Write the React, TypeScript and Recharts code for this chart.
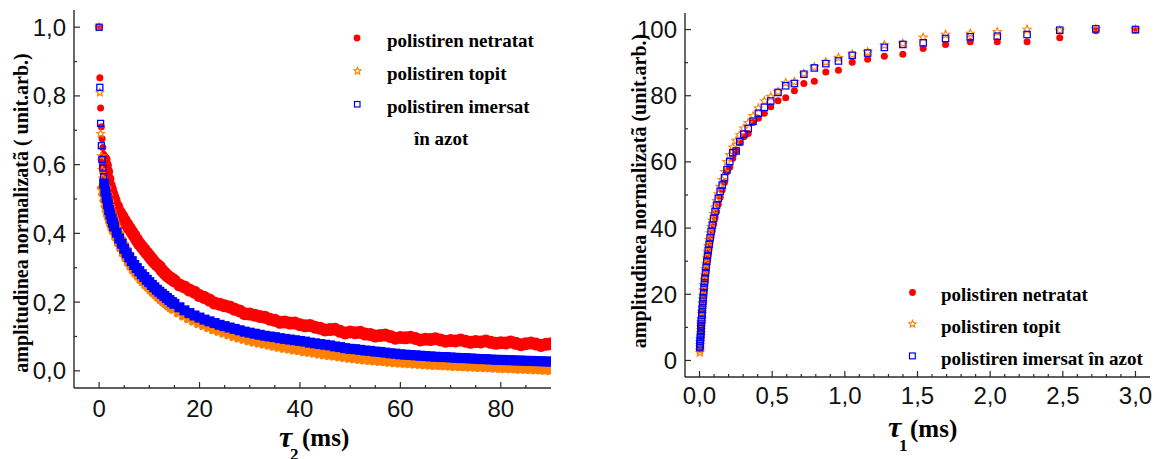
import { ScatterChart, Scatter, XAxis, YAxis } from 'recharts';

// ---- left panel: decay vs tau2 (ms) ----
const tau2 = [
  0, 0.15, 0.3, 0.45, 0.6, 0.75, 0.9,
  1, 1.25, 1.5, 1.75, 2, 2.25, 2.5, 2.75, 3, 3.5, 4, 4.5, 5,
  5.5, 6, 6.5, 7, 7.5, 8, 8.5, 9, 9.5, 10,
  10.5, 11, 11.5, 12, 12.5, 13, 13.5, 14, 14.5, 15,
  16, 17, 18, 19, 20,
  21, 22, 23, 24, 25, 26, 27, 28, 29, 30,
  31, 32, 33, 34, 35, 36, 37, 38, 39, 40,
  41, 42, 43, 44, 45, 46, 47, 48, 49, 50,
  51, 52, 53, 54, 55, 56, 57, 58, 59, 60,
  61, 62, 63, 64, 65, 66, 67, 68, 69, 70,
  71, 72, 73, 74, 75, 76, 77, 78, 79, 80,
  81, 82, 83, 84, 85, 86, 87, 88, 89, 90,
];
const netratat2 = [
  1.0, 0.853, 0.765, 0.71, 0.675, 0.65, 0.63,
  0.615, 0.598, 0.58, 0.558, 0.54, 0.528, 0.516, 0.505, 0.495, 0.478, 0.462, 0.45, 0.438,
  0.426, 0.415, 0.404, 0.393, 0.381, 0.37, 0.361, 0.352, 0.343, 0.334,
  0.325, 0.316, 0.309, 0.303, 0.293, 0.285, 0.278, 0.272, 0.267, 0.262,
  0.25, 0.244, 0.235, 0.229, 0.219,
  0.213, 0.206, 0.197, 0.194, 0.189, 0.186, 0.179, 0.174, 0.166, 0.165,
  0.162, 0.158, 0.156, 0.15, 0.147, 0.141, 0.142, 0.139, 0.139, 0.134,
  0.131, 0.132, 0.127, 0.124, 0.119, 0.12, 0.121, 0.115, 0.11, 0.113,
  0.111, 0.112, 0.107, 0.106, 0.101, 0.103, 0.104, 0.1, 0.095, 0.097,
  0.096, 0.098, 0.094, 0.09, 0.092, 0.091, 0.093, 0.09, 0.086, 0.088,
  0.087, 0.09, 0.086, 0.083, 0.085, 0.084, 0.087, 0.083, 0.08, 0.082,
  0.081, 0.084, 0.08, 0.076, 0.079, 0.081, 0.078, 0.074, 0.077, 0.079,
];
const topit2 = [
  1.0, 0.81, 0.69, 0.625, 0.585, 0.56, 0.54,
  0.528, 0.508, 0.49, 0.474, 0.46, 0.447, 0.436, 0.425, 0.415, 0.397, 0.38, 0.365, 0.35,
  0.336, 0.323, 0.311, 0.3, 0.291, 0.282, 0.273, 0.265, 0.257, 0.25,
  0.242, 0.235, 0.228, 0.221, 0.214, 0.208, 0.202, 0.196, 0.19, 0.185,
  0.175, 0.166, 0.158, 0.151, 0.144,
  0.138, 0.132, 0.126, 0.121, 0.116, 0.111, 0.106, 0.102, 0.098, 0.094,
  0.09, 0.087, 0.084, 0.081, 0.078, 0.075, 0.072, 0.07, 0.067, 0.065,
  0.062, 0.06, 0.058, 0.055, 0.053, 0.051, 0.049, 0.047, 0.045, 0.043,
  0.041, 0.04, 0.038, 0.037, 0.035, 0.034, 0.033, 0.031, 0.03, 0.029,
  0.028, 0.027, 0.026, 0.025, 0.024, 0.023, 0.022, 0.022, 0.021, 0.02,
  0.019, 0.019, 0.018, 0.017, 0.017, 0.016, 0.016, 0.015, 0.014, 0.014,
  0.013, 0.013, 0.012, 0.011, 0.011, 0.01, 0.009, 0.009, 0.008, 0.007,
];
const imersat2 = [
  1.0, 0.825, 0.72, 0.655, 0.615, 0.59, 0.565,
  0.545, 0.522, 0.503, 0.485, 0.468, 0.455, 0.442, 0.431, 0.42, 0.402, 0.385, 0.37, 0.355,
  0.342, 0.33, 0.319, 0.308, 0.299, 0.29, 0.281, 0.273, 0.265, 0.258,
  0.25, 0.243, 0.236, 0.23, 0.224, 0.218, 0.212, 0.206, 0.2, 0.195,
  0.185, 0.176, 0.168, 0.161, 0.155,
  0.149, 0.144, 0.139, 0.134, 0.13, 0.126, 0.122, 0.118, 0.114, 0.111,
  0.108, 0.105, 0.102, 0.1, 0.098, 0.095, 0.093, 0.091, 0.089, 0.087,
  0.085, 0.082, 0.08, 0.078, 0.076, 0.074, 0.071, 0.069, 0.066, 0.064,
  0.063, 0.061, 0.059, 0.058, 0.056, 0.055, 0.053, 0.051, 0.05, 0.048,
  0.047, 0.046, 0.045, 0.044, 0.043, 0.042, 0.041, 0.04, 0.04, 0.039,
  0.038, 0.037, 0.037, 0.036, 0.035, 0.034, 0.034, 0.033, 0.032, 0.032,
  0.031, 0.031, 0.03, 0.03, 0.029, 0.029, 0.028, 0.028, 0.027, 0.027,
];

// ---- right panel: recovery vs tau1 (ms) ----
const tau1 = [
  0.002, 0.003, 0.004, 0.005, 0.006, 0.007, 0.008, 0.009, 0.01, 0.011,
  0.012, 0.013, 0.014, 0.016, 0.017, 0.019, 0.021, 0.023, 0.025, 0.028,
  0.031, 0.034, 0.037, 0.041, 0.045, 0.05, 0.055, 0.06, 0.066, 0.073,
  0.08, 0.088, 0.097, 0.107, 0.117, 0.129, 0.142, 0.156, 0.172, 0.189,
  0.208, 0.229, 0.252, 0.277, 0.305, 0.335, 0.368, 0.405, 0.446, 0.49,
  0.54, 0.593, 0.653, 0.718, 0.79, 0.869, 0.956, 1.051, 1.157, 1.272,
  1.399, 1.539, 1.693, 1.863, 2.049, 2.254, 2.479, 2.727, 3.0,
];
const netratat1 = [
  3.6, 4.1, 4.7, 5.3, 6.0, 6.7, 7.4, 8.1, 8.8, 9.5,
  10.2, 10.9, 11.5, 12.7, 13.3, 14.5, 15.6, 16.7, 17.8, 19.3,
  20.8, 22.2, 23.5, 25.2, 26.8, 28.6, 30.3, 31.9, 33.7, 35.6,
  37.4, 39.3, 41.2, 43.2, 45.0, 47.2, 49.3, 51.5, 53.8, 57.0,
  58.4, 61.1, 63.4, 65.8, 67.6, 68.6, 71.9, 73.2, 74.7, 76.7,
  78.5, 79.4, 81.5, 83.7, 84.4, 87.2, 87.7, 90.1, 91.0, 91.9,
  92.5, 94.3, 95.5, 96.3, 96.3, 96.3, 97.5, 99.6, 99.8,
];
const topit1 = [
  2.4, 3.1, 3.9, 4.7, 5.6, 6.5, 7.4, 8.3, 9.2, 10.1,
  10.9, 11.7, 12.5, 14.0, 14.7, 16.0, 17.3, 18.5, 19.7, 21.3,
  22.9, 24.4, 25.8, 27.6, 29.2, 31.1, 32.9, 34.6, 36.5, 38.5,
  40.4, 42.3, 44.3, 46.3, 48.2, 50.3, 52.5, 54.6, 57.0, 60.0,
  62.1, 64.4, 66.4, 68.1, 70.1, 71.8, 73.9, 76.2, 78.4, 79.7,
  81.2, 83.9, 84.2, 86.7, 88.7, 90.2, 91.5, 92.5, 93.2, 95.3,
  95.8, 97.6, 98.5, 98.8, 99.3, 100.0, 99.8, 100.2, 100.0,
];
const imersat1 = [
  3.9, 4.4, 5.0, 5.7, 6.4, 7.2, 8.0, 8.8, 9.6, 10.3,
  11.0, 11.7, 12.4, 13.7, 14.3, 15.5, 16.7, 17.9, 19.0, 20.5,
  22.0, 23.4, 24.8, 26.5, 28.1, 30.0, 31.7, 33.3, 35.1, 37.1,
  39.0, 40.9, 42.9, 45.0, 46.9, 49.0, 51.1, 53.0, 55.2, 57.6,
  60.1, 62.8, 63.3, 66.1, 68.4, 70.1, 72.3, 74.7, 76.5, 78.4,
  81.0, 83.0, 83.7, 86.5, 88.4, 89.7, 90.5, 92.2, 92.9, 94.6,
  95.5, 96.0, 97.3, 97.8, 98.0, 98.5, 99.8, 100.2, 100.0,
];

const legendNames = ['polistiren netratat', 'polistiren topit', 'polistiren imersat', 'în azot'];
const legendNamesRight = ['polistiren netratat', 'polistiren topit', 'polistiren imersat în azot'];

const xTicks2 = [0, 5, 10, 15, 20, 25, 30, 35, 40, 45, 50, 55, 60, 65, 70, 75, 80, 85];
const xMajor2 = [0, 20, 40, 60, 80];
const yTicks2 = [0, 0.1, 0.2, 0.3, 0.4, 0.5, 0.6, 0.7, 0.8, 0.9, 1.0];
const yMajor2 = [0, 0.2, 0.4, 0.6, 0.8, 1.0];
const xTicks1 = [0, 0.1, 0.2, 0.3, 0.4, 0.5, 0.6, 0.7, 0.8, 0.9, 1.0, 1.1, 1.2, 1.3, 1.4, 1.5, 1.6, 1.7, 1.8, 1.9, 2.0, 2.1, 2.2, 2.3, 2.4, 2.5, 2.6, 2.7, 2.8, 2.9, 3.0];
const xMajor1 = [0, 0.5, 1.0, 1.5, 2.0, 2.5, 3.0];
const yTicks1 = [0, 10, 20, 30, 40, 50, 60, 70, 80, 90, 100];
const yMajor1 = [0, 20, 40, 60, 80, 100];

const RED = '#ff0000';
const ORANGE = '#ff8000';
const BLUE = '#0000ff';
const FRAME = '#2a2a2a';
const SANS = "'Liberation Sans', Arial, sans-serif";
const SERIF = "'Liberation Serif', 'Times New Roman', serif";

const toPoints = (xs: number[], ys: number[]) => xs.map((x, i) => ({ x, y: ys[i] }));

const comma = (d: number) => (v: number) => v.toFixed(d).replace('.', ',');
const plain = (v: number) => String(v);

type Side = 'bottom' | 'top' | 'left' | 'right';

function makeTick(side: Side, majors: number[], fmt?: (v: number) => string, labelOffset = 29) {
  return (props: any) => {
    const { x, y, payload } = props;
    const v = Number(payload.value);
    const major = majors.some((m) => Math.abs(m - v) < 1e-6);
    const len = major ? 6 : 3;
    let x2 = x;
    let y2 = y;
    if (side === 'bottom') y2 = y - len;
    if (side === 'top') y2 = y + len;
    if (side === 'left') x2 = x + len;
    if (side === 'right') x2 = x - len;
    return (
      <g>
        <line x1={x} y1={y} x2={x2} y2={y2} stroke={FRAME} strokeWidth={1.2} />
        {fmt && major && side === 'bottom' && (
          <text x={x} y={y + labelOffset} textAnchor="middle" fontFamily={SANS} fontSize={24} fill="#111">
            {fmt(v)}
          </text>
        )}
        {fmt && major && side === 'left' && (
          <text x={x - 8} y={y + 8.5} textAnchor="end" fontFamily={SANS} fontSize={24} fill="#111">
            {fmt(v)}
          </text>
        )}
      </g>
    );
  };
}

const starPoints = (cx: number, cy: number, R: number) => {
  const pts: string[] = [];
  for (let i = 0; i < 10; i++) {
    const a = -Math.PI / 2 + (i * Math.PI) / 5;
    const r = i % 2 === 0 ? R : R * 0.45;
    pts.push(`${cx + r * Math.cos(a)},${cy + r * Math.sin(a)}`);
  }
  return pts.join(' ');
};

// markers for the dense left panel: small hollow ones near t=0, heavy ones in the band
const redBand = (p: any) => {
  const early = (p.payload?.x ?? 1) < 1;
  return <circle cx={p.cx} cy={p.cy} r={early ? 3.5 : 6.5} fill={RED} />;
};
const orangeBand = (p: any) => {
  const early = (p.payload?.x ?? 1) < 1;
  return early ? (
    <polygon points={starPoints(p.cx, p.cy, 4)} fill="none" stroke={ORANGE} strokeWidth={1.2} />
  ) : (
    <polygon points={starPoints(p.cx, p.cy, 5.5)} fill={ORANGE} stroke={ORANGE} strokeWidth={4.5} strokeLinejoin="round" />
  );
};
const blueBand = (p: any) => {
  const early = (p.payload?.x ?? 1) < 1;
  return early ? (
    <rect x={p.cx - 3} y={p.cy - 3} width={6} height={6} fill="none" stroke={BLUE} strokeWidth={1.3} />
  ) : (
    <rect x={p.cx - 5} y={p.cy - 5} width={10} height={10} fill={BLUE} />
  );
};

// markers for the right panel
const redDot = (p: any) => <circle cx={p.cx} cy={p.cy} r={3.5} fill={RED} />;
const orangeStar = (p: any) => (
  <polygon points={starPoints(p.cx, p.cy, 4.3)} fill="none" stroke={ORANGE} strokeWidth={1.1} />
);
const blueSquare = (p: any) => (
  <rect x={p.cx - 3.2} y={p.cy - 3.2} width={6.4} height={6.4} fill="none" stroke={BLUE} strokeWidth={1.2} />
);

const axisLine = { stroke: FRAME, strokeWidth: 1.4 };

const LeftPanel = () => (
  <ScatterChart width={580} height={459} margin={{ top: 10, right: 29, bottom: 0, left: 0 }}>
    <XAxis xAxisId="b" type="number" dataKey="x" domain={[-5, 90]} allowDataOverflow ticks={xTicks2} interval={0}
      orientation="bottom" height={71} tickSize={0} tickMargin={0} tickLine={false} axisLine={axisLine}
      tick={makeTick('bottom', xMajor2, plain, 29)} />
    <XAxis xAxisId="t" type="number" dataKey="x" domain={[-5, 90]} allowDataOverflow ticks={xTicks2} interval={0}
      orientation="top" height={0} tickSize={0} tickMargin={0} tickLine={false} axisLine={axisLine}
      tick={makeTick('top', xMajor2)} />
    <YAxis yAxisId="l" type="number" dataKey="y" domain={[-0.05, 1.05]} allowDataOverflow ticks={yTicks2} interval={0}
      orientation="left" width={74} tickSize={0} tickMargin={0} tickLine={false} axisLine={axisLine}
      tick={makeTick('left', yMajor2, comma(1))} />
    <YAxis yAxisId="r" type="number" dataKey="y" domain={[-0.05, 1.05]} allowDataOverflow ticks={yTicks2} interval={0}
      orientation="right" width={0} tickSize={0} tickMargin={0} tickLine={false} axisLine={axisLine}
      tick={makeTick('right', yMajor2)} />
    <Scatter xAxisId="b" yAxisId="l" name={legendNames[0]} data={toPoints(tau2, netratat2)} shape={redBand} isAnimationActive={false} />
    <Scatter xAxisId="b" yAxisId="l" name={legendNames[1]} data={toPoints(tau2, topit2)} shape={orangeBand} isAnimationActive={false} />
    <Scatter xAxisId="b" yAxisId="l" name={legendNames[2]} data={toPoints(tau2, imersat2)} shape={blueBand} isAnimationActive={false} />
  </ScatterChart>
);

const RightPanel = () => (
  <ScatterChart width={582} height={459} margin={{ top: 13, right: 12, bottom: 0, left: 0 }}>
    <XAxis xAxisId="b" type="number" dataKey="x" domain={[-0.1, 3.1]} allowDataOverflow ticks={xTicks1} interval={0}
      orientation="bottom" height={82} tickSize={0} tickMargin={0} tickLine={false} axisLine={axisLine}
      tick={makeTick('bottom', xMajor1, comma(1), 27)} />
    <XAxis xAxisId="t" type="number" dataKey="x" domain={[-0.1, 3.1]} allowDataOverflow ticks={xTicks1} interval={0}
      orientation="top" height={0} tickSize={0} tickMargin={0} tickLine={false} axisLine={axisLine}
      tick={makeTick('top', xMajor1)} />
    <YAxis yAxisId="l" type="number" dataKey="y" domain={[-5, 105]} allowDataOverflow ticks={yTicks1} interval={0}
      orientation="left" width={105} tickSize={0} tickMargin={0} tickLine={false} axisLine={axisLine}
      tick={makeTick('left', yMajor1, plain)} />
    <YAxis yAxisId="r" type="number" dataKey="y" domain={[-5, 105]} allowDataOverflow ticks={yTicks1} interval={0}
      orientation="right" width={0} tickSize={0} tickMargin={0} tickLine={false} axisLine={axisLine}
      tick={makeTick('right', yMajor1)} />
    <Scatter xAxisId="b" yAxisId="l" name={legendNamesRight[0]} data={toPoints(tau1, netratat1)} shape={redDot} isAnimationActive={false} />
    <Scatter xAxisId="b" yAxisId="l" name={legendNamesRight[1]} data={toPoints(tau1, topit1)} shape={orangeStar} isAnimationActive={false} />
    <Scatter xAxisId="b" yAxisId="l" name={legendNamesRight[2]} data={toPoints(tau1, imersat1)} shape={blueSquare} isAnimationActive={false} />
  </ScatterChart>
);

const legendText = { fontFamily: SERIF, fontWeight: 700, fontSize: 19, fill: '#000' } as const;
const titleText = { fontFamily: SERIF, fontWeight: 700, fill: '#000' } as const;

// titles and legends drawn over both panels
const Overlay = () => (
  <svg width={1162} height={459} style={{ position: 'absolute', left: 0, top: 0, pointerEvents: 'none' }}>
    {/* left legend */}
    <circle cx={357} cy={38} r={3.4} fill={RED} />
    <text x={387} y={47} {...legendText}>{legendNames[0]}</text>
    <polygon points={starPoints(357.5, 71, 3.8)} fill="none" stroke={ORANGE} strokeWidth={1.1} />
    <text x={387} y={80} {...legendText}>{legendNames[1]}</text>
    <rect x={354.5} y={101.5} width={5.5} height={5.5} fill="none" stroke={BLUE} strokeWidth={1.2} />
    <text x={387} y={113} {...legendText}>{legendNames[2]}</text>
    <text x={414} y={145} {...legendText}>{legendNames[3]}</text>

    {/* right legend */}
    <circle cx={912.5} cy={292.5} r={3.4} fill={RED} />
    <text x={941} y={300.5} {...legendText}>{legendNamesRight[0]}</text>
    <polygon points={starPoints(912.5, 324, 3.8)} fill="none" stroke={ORANGE} strokeWidth={1.1} />
    <text x={941} y={333} {...legendText}>{legendNamesRight[1]}</text>
    <rect x={909.5} y={353} width={5.8} height={5.8} fill="none" stroke={BLUE} strokeWidth={1.2} />
    <text x={941} y={365} {...legendText}>{legendNamesRight[2]}</text>

    {/* y titles */}
    <text transform="translate(21,213) rotate(-90)" textAnchor="middle" dominantBaseline="central" fontSize={20} {...titleText}>
      amplitudinea normalizatã ( unit.arb.)
    </text>
    <text transform="translate(638.5,191) rotate(-90)" textAnchor="middle" dominantBaseline="central" fontSize={20} {...titleText}>
      amplitudinea normalizatã (unit.arb.)
    </text>

    {/* x titles */}
    <text x={279} y={447} fontSize={30} fontStyle="italic" {...titleText}>τ</text>
    <text x={290} y={460} fontSize={17} {...titleText}>2</text>
    <text x={302} y={446} fontSize={25} {...titleText}>(ms)</text>

    <text x={888} y={437} fontSize={30} fontStyle="italic" {...titleText}>τ</text>
    <text x={899} y={451} fontSize={17} {...titleText}>1</text>
    <text x={910} y={436.5} fontSize={25} {...titleText}>(ms)</text>
  </svg>
);

export default function App() {
  return (
    <div style={{ position: 'absolute', left: 0, top: 0, width: 1162, height: 459, background: '#fff' }}>
      <div style={{ position: 'absolute', left: 0, top: 0 }}>
        <LeftPanel />
      </div>
      <div style={{ position: 'absolute', left: 580, top: 0 }}>
        <RightPanel />
      </div>
      <Overlay />
    </div>
  );
}
